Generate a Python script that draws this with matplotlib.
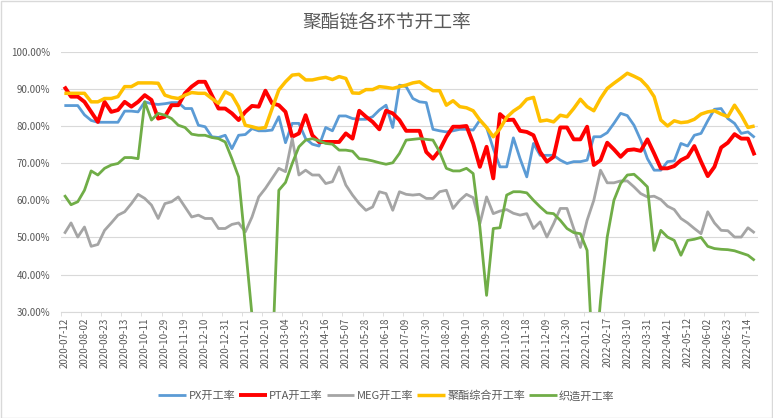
import matplotlib
matplotlib.use("Agg")
import matplotlib.pyplot as plt
from matplotlib.ticker import FuncFormatter, FixedLocator
from matplotlib.patches import Rectangle

plt.rcParams['font.family'] = ['Noto Sans CJK SC', 'DejaVu Sans']

title = "聚酯链各环节开工率"
series_names = ["PX开工率", "PTA开工率", "MEG开工率", "聚酯综合开工率", "织造开工率"]

tick_labels = [
    "2020-07-12", "2020-08-02", "2020-08-23", "2020-09-13", "2020-10-11", "2020-10-29",
    "2020-11-19", "2020-12-10", "2020-12-31", "2021-01-21", "2021-02-10", "2021-03-04",
    "2021-03-25", "2021-04-16", "2021-05-07", "2021-05-28", "2021-06-18", "2021-07-09",
    "2021-07-30", "2021-08-20", "2021-09-10", "2021-09-30", "2021-10-28", "2021-11-18",
    "2021-12-09", "2021-12-30", "2022-01-21", "2022-02-17", "2022-03-10", "2022-03-31",
    "2022-04-21", "2022-05-12", "2022-06-02", "2022-06-23", "2022-07-14",
]

px = [85.5, 85.5, 85.5, 83, 81.5, 81, 81, 81, 81, 84, 84, 83.8, 86.5, 86, 85.8, 86,
      86.3, 86.3, 84.7, 84.7, 80.2, 79.8, 77.1, 76.9, 77.5, 73.9, 77.5, 77.7, 79.3, 78.7,
      78.7, 78.9, 82.5, 75.5, 80.7, 80.7, 76.6, 75.1, 74.6, 79.6, 78.7, 82.7, 82.7, 82,
      81.8, 81.8, 82.5, 84.3, 85.6, 79.6, 91, 90.6, 87.4, 86.5, 86.3, 79.1, 78.7, 78.4,
      78.7, 79.1, 79.1, 78.9, 81.6, 79.6, 73.9, 69, 69, 76.8, 71.2, 66.3, 75.3, 72.1,
      72.1, 72.1, 70.8, 69.9, 70.4, 70.4, 70.8, 77.1, 77.1, 78.2, 80.7, 83.4, 82.8, 80.2,
      76.2, 71.2, 68.1, 68.1, 70.4, 70.6, 75.3, 74.6, 77.5, 78, 81.4, 84.5, 84.7, 82,
      80.7, 78, 78.4, 76.9]

pta = [90.6, 87.9, 87.9, 86.5, 83.8, 81.1, 86.5, 83.8, 84.3, 86.5, 85.2, 86.5, 88.3, 87,
       82, 82.5, 85.6, 85.6, 88.8, 90.6, 91.9, 91.9, 88.3, 84.7, 84.7, 83.4, 81.6, 83.8,
       85.4, 85.2, 89.5, 86.1, 85.6, 83.8, 77.1, 78, 82.9, 77.5, 75.7, 75.7, 75.7, 75.7,
       78, 76.6, 84.1, 82.5, 81.1, 79.1, 84.1, 83.4, 81.6, 78.7, 78.7, 78.7, 73, 71.2,
       73.5, 77.1, 79.8, 79.8, 80, 75.3, 69, 74.4, 65.9, 83.2, 81.6, 81.7, 78.7, 78.4,
       77.5, 73, 70.4, 71.7, 79.6, 79.6, 76.4, 76.4, 79.8, 69.5, 70.8, 75.5, 73.7, 71.7,
       73.5, 73.7, 73.3, 76.4, 72.6, 68.6, 68.6, 69.2, 70.8, 71.7, 74.6, 70.4, 66.5, 69,
       74.2, 75.5, 77.8, 76.6, 76.6, 72.1]

meg = [51, 53.9, 50.1, 52.8, 47.6, 48.1, 51.9, 53.9, 56, 56.9, 59.1, 61.6, 60.5, 58.7,
       55.1, 59.1, 59.6, 60.9, 58.2, 55.5, 56, 55.1, 55.1, 52.4, 52.4, 53.5, 53.9, 51.5,
       55.5, 60.9, 63.2, 65.9, 68.6, 67.7, 76.6, 66.8, 68.1, 66.8, 66.8, 64.5, 65, 69,
       64.1, 61.4, 59.1, 57.3, 58.2, 62.3, 61.8, 57.3, 62.3, 61.6, 61.4, 61.6, 60.5, 60.5,
       62.3, 62.7, 57.8, 60, 61.6, 60.7, 53.7, 60.9, 56.4, 57.1, 57.5, 56.5, 56, 56.4,
       52.4, 54.2, 50.1, 53.7, 57.8, 57.8, 52.4, 47.3, 54.6, 60, 68.1, 64.7, 64.7, 65.2,
       65.2, 63.6, 61.8, 60.9, 61.1, 60.2, 58.4, 57.5, 55.1, 53.9, 52.4, 51, 56.9, 53.9,
       51.9, 51.8, 50.1, 50.1, 52.6, 51.2]

polyester = [88.8, 88.8, 88.8, 88.8, 86.5, 86.5, 87.4, 87.4, 87.9, 90.6, 90.6, 91.6, 91.6,
             91.6, 91.5, 88.3, 87.7, 87.4, 88.3, 89, 88.8, 88.8, 87.4, 86.1, 89.2, 88.3,
             85.2, 80.2, 79.8, 79.3, 79.6, 84.7, 89.7, 91.9, 93.7, 93.9, 92.4, 92.4, 92.8,
             93.1, 92.5, 93.3, 92.8, 88.9, 88.8, 89.8, 89.8, 90.6, 90.4, 90.1, 90.6, 91,
             91.6, 91.9, 90.6, 89.5, 89.5, 85.6, 86.8, 85.2, 84.9, 84.1, 81.6, 79.6, 77.1,
             79.3, 82.3, 84, 85.2, 87.2, 87.7, 81.3, 81.6, 81.1, 82.9, 82.5, 84.7, 87.2,
             85.2, 84.1, 87.4, 90.1, 91.5, 92.8, 94.2, 93.4, 92.5, 90.6, 87.9, 81.6, 80,
             81.4, 80.9, 81.1, 81.8, 83.2, 83.8, 84.1, 83.2, 82.5, 85.6, 82.9, 79.6, 80]

weaving = [61.4, 58.8, 59.6, 62.7, 67.9, 66.8, 68.6, 69.5, 69.9, 71.5, 71.5, 71.2, 86.5,
           81.6, 83.4, 82.9, 82, 80.2, 79.6, 77.8, 77.5, 77.5, 76.9, 76.6, 75.7, 71.2,
           66.3, 48, 29, 12, 12, 16, 62.7, 64.8, 69.9, 74.4, 76.2, 76.6, 76, 75.3, 75.1,
           73.5, 73.5, 73.2, 71.2, 71, 70.6, 70.1, 69.7, 70.1, 72.6, 76.2, 76.4, 76.6,
           76.4, 76.2, 73, 68.6, 67.9, 67.9, 68.6, 67.2, 52.8, 34.4, 52.4, 52.6, 61.4,
           62.3, 62.3, 62, 60, 58.2, 56.6, 56.4, 54.6, 52.4, 51.3, 51, 46.5, 12, 33, 50.1,
           60, 64.5, 66.8, 67, 65.4, 63.6, 46.5, 51.9, 50.1, 49.2, 45.2, 49.2, 49.5, 50,
           47.6, 47, 46.8, 46.7, 46.4, 45.8, 45.2, 43.8]

colors = ["#5B9BD5", "#FF0000", "#A5A5A5", "#FFC000", "#70AD47"]
widths = [2.0, 2.8, 2.0, 2.5, 2.0]
all_series = [px, pta, meg, polyester, weaving]

fig = plt.figure(figsize=(7.73, 4.18), dpi=100)
fig.patches.append(Rectangle((0.001, 0.001), 0.998, 0.997, transform=fig.transFigure,
                             fill=False, edgecolor="#D9D9D9", linewidth=1.0))
ax = fig.add_axes([61 / 773, 1 - 311.7 / 418, 697 / 773, 260 / 418])

n = len(px)
x = list(range(n))
handles = []
for vals, c, w, name in zip(all_series, colors, widths, series_names):
    h, = ax.plot(x, [v / 100 for v in vals], color=c, linewidth=w, label=name,
                 solid_joinstyle="round", solid_capstyle="butt")
    handles.append(h)

ax.set_xlim(-0.5, n - 0.5)
ax.set_ylim(0.30, 1.00)
ax.set_yticks([0.3 + 0.1 * k for k in range(8)])
ax.yaxis.set_major_formatter(FuncFormatter(lambda v, p: f"{v * 100:.2f}%"))
ax.grid(axis="y", color="#D9D9D9", linewidth=0.8)
ax.set_axisbelow(True)

tick_pos = list(range(0, n, 3))[:len(tick_labels)]
ax.set_xticks(tick_pos)
ax.set_xticklabels(tick_labels, rotation=90, fontsize=7, color="#595959")
ax.tick_params(axis="x", length=0, pad=4)
ax.xaxis.set_minor_locator(FixedLocator([p - 0.5 for p in range(0, n + 1, 3)]))
ax.tick_params(axis="x", which="minor", length=3, color="#D9D9D9")
ax.tick_params(axis="y", length=0, labelsize=7, labelcolor="#595959", pad=8)

for s in ["top", "right", "left"]:
    ax.spines[s].set_visible(False)
ax.spines["bottom"].set_color("#D9D9D9")

fig.text(0.5, 1 - 22 / 418, title, ha="center", va="center", fontsize=13.5, color="#595959")

fig.legend(handles=handles, loc="center", bbox_to_anchor=(0.5, 1 - 396 / 418), ncol=5,
           frameon=False, fontsize=8, handlelength=2.5, columnspacing=0.35,
           handletextpad=0.2, labelcolor="#595959")

fig.savefig("out.png", dpi=100)
